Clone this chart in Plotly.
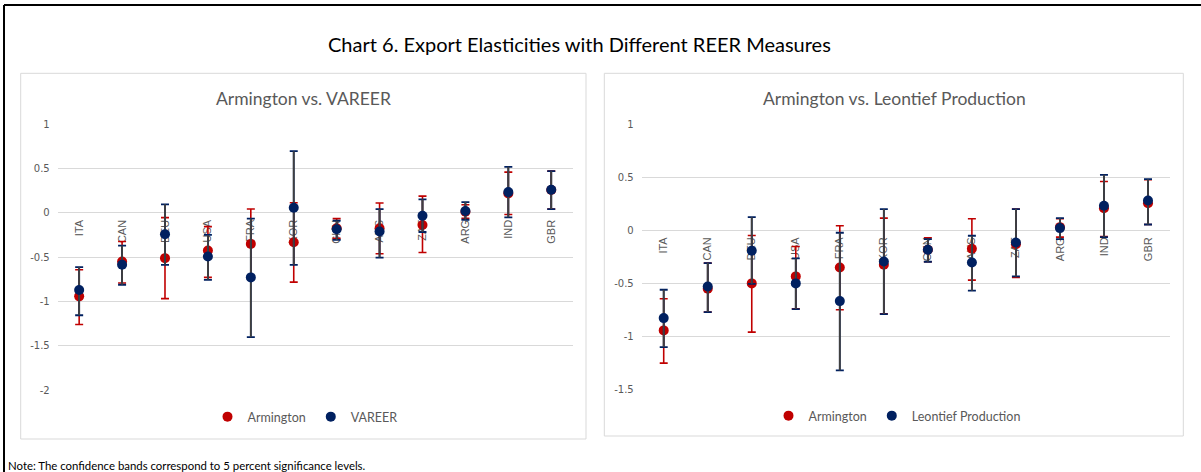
import plotly.graph_objects as go

W, H = 1201, 472

categories = ["ITA", "CAN", "DEU", "USA", "FRA", "KOR", "CHN", "AUS", "ZAF", "ARG", "IND", "GBR"]

# Left panel: Armington vs. VAREER
arm_L = [-0.944, -0.551, -0.513, -0.427, -0.352, -0.333, -0.176, -0.176, -0.139, 0.011, 0.217, 0.255]
arm_L_lo = [-1.262, -0.794, -0.970, -0.730, -0.745, -0.783, -0.290, -0.464, -0.449, -0.064, -0.020, 0.041]
arm_L_hi = [-0.644, -0.326, -0.056, -0.157, 0.041, 0.112, -0.067, 0.109, 0.187, 0.090, 0.457, 0.468]
var_L = [-0.873, -0.588, -0.243, -0.494, -0.730, 0.056, -0.187, -0.213, -0.034, 0.019, 0.232, 0.258]
var_L_lo = [-1.157, -0.813, -0.588, -0.757, -1.404, -0.588, -0.307, -0.506, -0.218, -0.080, -0.052, 0.041]
var_L_hi = [-0.614, -0.371, 0.094, -0.251, -0.067, 0.693, -0.090, 0.041, 0.150, 0.120, 0.517, 0.468]

# Right panel: Armington vs. Leontief Production
arm_R = [-0.945, -0.553, -0.502, -0.436, -0.352, -0.327, -0.185, -0.176, -0.132, 0.028, 0.207, 0.254]
arm_R_lo = [-1.253, -0.772, -0.961, -0.741, -0.750, -0.788, -0.298, -0.471, -0.446, -0.066, -0.060, 0.053]
arm_R_hi = [-0.647, -0.311, -0.050, -0.154, 0.041, 0.113, -0.072, 0.107, 0.198, 0.107, 0.458, 0.474]
leo_R = [-0.829, -0.531, -0.195, -0.502, -0.669, -0.295, -0.185, -0.305, -0.116, 0.019, 0.229, 0.279]
leo_R_lo = [-1.102, -0.772, -0.506, -0.744, -1.322, -0.791, -0.298, -0.571, -0.436, -0.085, -0.066, 0.053]
leo_R_hi = [-0.562, -0.311, 0.122, -0.267, -0.025, 0.198, -0.085, -0.053, 0.198, 0.113, 0.521, 0.480]

yticks_L = [1, 0.5, 0, -0.5, -1, -1.5, -2]
ytick_text_L = ["1", "0.5", "0", "-0.5", "-1", "-1.5", "-2"]
yticks_R = [1, 0.5, 0, -0.5, -1, -1.5]
ytick_text_R = ["1", "0.5", "0", "-0.5", "-1", "-1.5"]

RED = "#C00000"
NAVY = "#002060"
STEM = "#404040"
GRID = "#D9D9D9"
TXT = "#595959"


def px(x):
    return x / W


def py(y):
    return 1 - y / H


fig = go.Figure()


def add_panel(xa, ya, a, a_lo, a_hi, b, b_lo, b_hi, bname, leg):
    a_up = [h - v for h, v in zip(a_hi, a)]
    a_dn = [v - l for v, l in zip(a, a_lo)]
    b_up = [h - v for h, v in zip(b_hi, b)]
    b_dn = [v - l for v, l in zip(b, b_lo)]
    fig.add_trace(go.Scatter(
        x=categories, y=a, mode="markers", name="Armington", legend=leg,
        xaxis=xa, yaxis=ya,
        marker=dict(color=RED, size=10),
        error_y=dict(type="data", array=a_up, arrayminus=a_dn, color=RED,
                     thickness=1.6, width=4)))
    fig.add_trace(go.Scatter(
        x=categories, y=b, mode="markers", showlegend=False, hoverinfo="skip",
        xaxis=xa, yaxis=ya,
        marker=dict(color="rgba(0,0,0,0)", size=1),
        error_y=dict(type="data", array=b_up, arrayminus=b_dn, color=NAVY,
                     thickness=1.8, width=4)))
    fig.add_trace(go.Scatter(
        x=categories, y=b, mode="markers", showlegend=False, hoverinfo="skip",
        xaxis=xa, yaxis=ya,
        marker=dict(color="rgba(0,0,0,0)", size=1),
        error_y=dict(type="data", array=b_up, arrayminus=b_dn, color=STEM,
                     thickness=1.8, width=0)))
    fig.add_trace(go.Scatter(
        x=categories, y=b, mode="markers", name=bname, legend=leg,
        xaxis=xa, yaxis=ya,
        marker=dict(color=NAVY, size=10)))


add_panel("x", "y", arm_L, arm_L_lo, arm_L_hi, var_L, var_L_lo, var_L_hi, "VAREER", "legend")
add_panel("x2", "y2", arm_R, arm_R_lo, arm_R_hi, leo_R, leo_R_lo, leo_R_hi,
          "Leontief Production", "legend2")

# plot areas
dom_x1 = [px(57.7), px(572.7)]
dom_x2 = [px(641.7), px(1170)]
dom_y1 = [py(390), py(124)]
dom_y2 = [py(389.3), py(124)]
rng1 = [-2, 1]
rng2 = [-1.5, 1]
zero1 = dom_y1[0] + (0 - rng1[0]) / (rng1[1] - rng1[0]) * (dom_y1[1] - dom_y1[0])
zero2 = dom_y2[0] + (0 - rng2[0]) / (rng2[1] - rng2[0]) * (dom_y2[1] - dom_y2[0])

xcommon = dict(showgrid=False, zeroline=False, showline=False, ticks="",
               tickangle=-90, layer="below traces", automargin=False,
               tickfont=dict(family="Liberation Sans", size=11, color=TXT),
               range=[-0.5, 11.5], fixedrange=True, ticklabelstandoff=4)
ycommon = dict(showgrid=True, gridcolor=GRID, gridwidth=1, zeroline=False,
               showline=False, ticks="", automargin=False,
               tickfont=dict(family="DejaVu Sans", size=10, color=TXT),
               ticklabelstandoff=7)

fig.update_layout(
    width=W, height=H, template="none",
    margin=dict(l=0, r=0, t=0, b=0),
    paper_bgcolor="white", plot_bgcolor="white",
    showlegend=True,
    xaxis=dict(domain=dom_x1, anchor="free", position=zero1, **xcommon),
    yaxis=dict(domain=dom_y1, anchor="x", range=rng1, tickvals=yticks_L,
               ticktext=ytick_text_L, **ycommon),
    xaxis2=dict(domain=dom_x2, anchor="free", position=zero2, **xcommon),
    yaxis2=dict(domain=dom_y2, anchor="x2", range=rng2, tickvals=yticks_R,
                ticktext=ytick_text_R, **ycommon),
    legend=dict(orientation="h", x=px(305), y=py(417), xanchor="center", yanchor="middle",
                font=dict(family="Lato", size=12.5, color=TXT), bgcolor="rgba(0,0,0,0)",
                itemwidth=30, tracegroupgap=0),
    legend2=dict(orientation="h", x=px(897), y=py(416), xanchor="center", yanchor="middle",
                 font=dict(family="Lato", size=12.5, color=TXT), bgcolor="rgba(0,0,0,0)",
                 itemwidth=30, tracegroupgap=0),
)

shapes = [
    # outer frame (top and left edges)
    dict(type="line", xref="paper", yref="paper", x0=px(4), x1=1.0, y0=py(5), y1=py(5),
         line=dict(color="black", width=2)),
    dict(type="line", xref="paper", yref="paper", x0=px(4), x1=px(4), y0=py(5), y1=0,
         line=dict(color="black", width=2)),
    # panel borders
    dict(type="rect", xref="paper", yref="paper", x0=px(20.7), x1=px(586), y0=py(439), y1=py(73.3),
         line=dict(color=GRID, width=1), layer="below"),
    dict(type="rect", xref="paper", yref="paper", x0=px(604.3), x1=px(1183.3), y0=py(436), y1=py(73.3),
         line=dict(color=GRID, width=1), layer="below"),
]
fig.update_layout(shapes=shapes)

annotations = [
    dict(text="Chart 6. Export Elasticities with Different REER Measures", x=px(579), y=py(44),
         xref="paper", yref="paper", showarrow=False, xanchor="center", yanchor="middle",
         font=dict(family="Lato", size=20, color="black")),
    dict(text="Armington vs. VAREER", x=px(303), y=py(98), xref="paper", yref="paper",
         showarrow=False, xanchor="center", yanchor="middle",
         font=dict(family="Lato", size=17.5, color=TXT)),
    dict(text="Armington vs. Leontief Production", x=px(894), y=py(98), xref="paper", yref="paper",
         showarrow=False, xanchor="center", yanchor="middle",
         font=dict(family="Lato", size=17.5, color=TXT)),
    dict(text="Note: The confidence bands correspond to 5 percent significance levels.",
         x=px(6), y=py(465), xref="paper", yref="paper", showarrow=False,
         xanchor="left", yanchor="middle", font=dict(family="Lato", size=11.4, color="black")),
]
fig.update_layout(annotations=annotations)

fig.write_html("out.html", config={"displayModeBar": False},
               post_script="document.body.style.margin='0';document.body.style.overflow='hidden';")
